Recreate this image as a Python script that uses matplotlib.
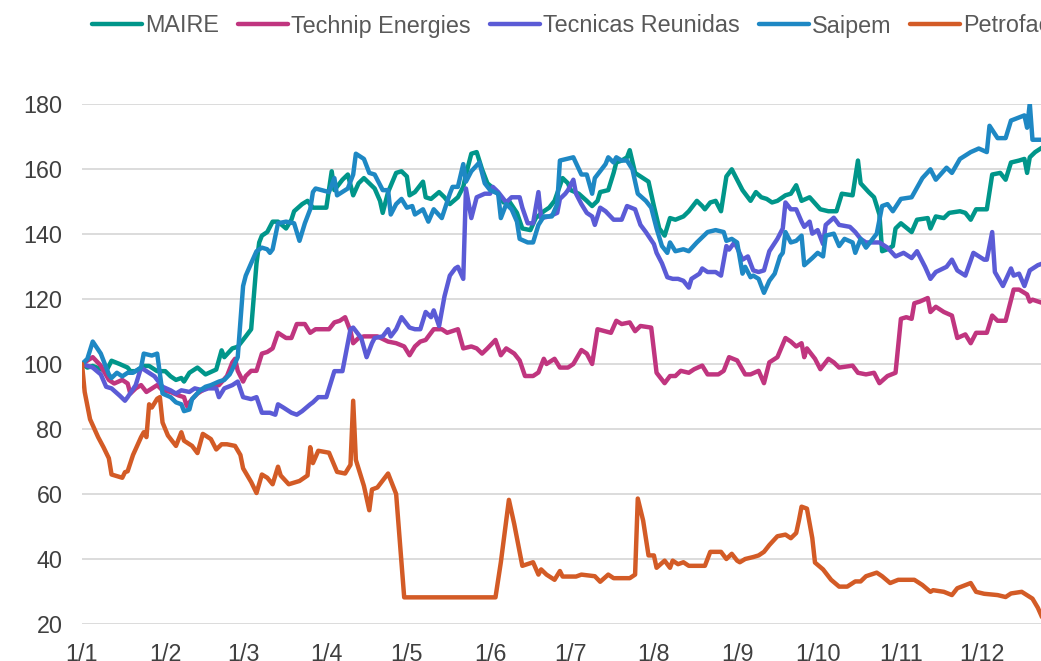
import pandas as pd
import matplotlib
matplotlib.use("Agg")
import matplotlib.pyplot as plt
from matplotlib.lines import Line2D

plt.rcParams['font.family'] = ['Liberation Sans', 'DejaVu Sans']

start = pd.Timestamp("2024-01-01")

# day offsets from 1 Jan 2024 and index values (base 100)
maire_days = [0, 2, 4, 9, 11, 14, 17, 18, 20, 23, 25, 28, 31, 33, 35, 37, 38, 40, 43, 46,
              50, 52, 53, 56, 58, 61, 63, 65, 66, 67, 69, 71, 73, 76, 78, 79, 82, 84, 86, 91,
              93, 94, 97, 99, 101, 103, 105, 107, 109, 111, 112, 114, 117, 119, 121, 122, 124, 127, 128, 130,
              133, 135, 137, 140, 142, 143, 145, 147, 149, 151, 154, 157, 159, 162, 164, 167, 169, 172, 174, 176,
              179, 181, 182, 185, 188, 190, 192, 193, 196, 197, 198, 199, 201, 203, 204, 206, 209, 211, 213, 215,
              217, 219, 221, 224, 226, 229, 231, 232, 234, 236, 238, 240, 242, 244, 246, 249, 251, 253, 255, 257,
              259, 262, 264, 266, 268, 271, 275, 278, 281, 283, 287, 289, 290, 293, 295, 297, 298, 300, 302, 303,
              305, 309, 311, 315, 316, 318, 321, 323, 327, 329, 331, 333, 337, 339, 342, 344, 346, 349, 351, 352,
              353, 355, 358]
maire_vals = [100, 98.9, 99.4, 97.8, 101, 100, 98.9, 97.8, 97.8, 99.4, 99.4, 97.8, 97.8, 96.2, 95.1, 95.7, 94.6, 97.3, 98.9, 96.8,
              98.3, 104.2, 102.1, 104.8, 105.3, 108.5, 110.7, 131, 137.4, 139.5, 140.6, 143.8, 143.8, 141.7, 144.4, 147, 149.2, 150.2, 148.1, 148.1,
              159.3, 153.5, 156.7, 158.3, 151.9, 155.6, 157.2, 155.6, 154, 150.2, 146.5, 152.9, 158.8, 159.3, 157.7, 151.9, 152.9, 156.1, 151.3, 150.8,
              152.9, 151.3, 149.2, 151.3, 154.5, 158.3, 164.7, 165.2, 159.9, 155.6, 153.5, 149.7, 150.2, 146.5, 141.7, 141.2, 144.9, 147, 148.1, 150.2,
              157.2, 155.6, 153.5, 152.4, 150.2, 148.6, 150.2, 152.9, 153.5, 156.1, 158.8, 162, 162.6, 163.6, 165.8, 158.8, 157.2, 156.1, 148.6, 141.7,
              139.5, 144.9, 144.4, 145.4, 147, 150.2, 148.6, 147.6, 149.7, 150.2, 147, 157.7, 159.9, 156.7, 153.5, 150.2, 152.9, 151.3, 150.8, 149.7,
              150.2, 151.9, 152.4, 155, 150.2, 151.3, 147.6, 147, 147, 152.4, 151.9, 162.6, 155.6, 152.9, 151.3, 146, 134.7, 135.3, 136.3, 141.7,
              143.3, 140.6, 144.4, 144.9, 141.7, 145.4, 144.9, 146.5, 147, 146.5, 144.4, 147.6, 147.6, 158.3, 158.8, 156.7, 162, 162.6, 163.1, 158.8,
              163.6, 165.2, 166.8]

technip_days = [0, 4, 7, 10, 12, 15, 17, 18, 20, 22, 24, 27, 28, 30, 33, 36, 38, 39, 41, 43,
                46, 51, 54, 56, 57, 58, 60, 61, 63, 65, 67, 69, 71, 73, 76, 78, 80, 83, 85, 87,
                92, 94, 96, 98, 100, 101, 103, 105, 110, 114, 117, 120, 122, 124, 126, 128, 131, 134, 136, 140,
                142, 145, 147, 149, 151, 154, 156, 158, 161, 163, 165, 168, 170, 172, 173, 176, 178, 181, 183, 186,
                188, 190, 192, 197, 199, 201, 204, 206, 208, 212, 214, 217, 219, 221, 223, 226, 228, 231, 233, 237,
                239, 241, 244, 247, 249, 252, 254, 256, 259, 262, 264, 266, 268, 269, 270, 273, 275, 278, 280, 282,
                287, 289, 292, 295, 297, 300, 303, 305, 307, 309, 310, 312, 315, 316, 318, 321, 324, 326, 329, 331,
                333, 337, 339, 341, 344, 347, 349, 352, 353, 354, 358]
technip_vals = [100, 102.1, 99.5, 95.1, 94, 95.1, 94, 90.9, 92.5, 93.5, 91.4, 93, 93.5, 91.9, 91.4, 90.3, 89.8, 87.1, 89.2, 90.9,
                92.5, 93.5, 96.3, 100.5, 101.6, 97.9, 94.6, 96.3, 97.9, 97.9, 103.2, 103.7, 104.8, 109.6, 108, 108, 112.3, 112.3, 109.6, 110.7,
                110.7, 112.8, 113.3, 114.4, 110.1, 106.4, 108, 108.5, 108.5, 106.9, 106.4, 105.4, 102.7, 105.4, 106.9, 107.4, 110.7, 110.7, 109.6, 110.7,
                104.8, 105.4, 104.8, 103.2, 104.8, 107.4, 102.7, 104.8, 103.2, 101.1, 96.3, 96.3, 97.4, 101.6, 100, 101.6, 98.9, 98.9, 100, 104.3,
                103.2, 100, 110.7, 109.6, 113.3, 112.3, 112.8, 110.1, 111.7, 111.2, 97.3, 94.1, 96.3, 96.3, 97.9, 97.3, 98.4, 99.5, 96.8, 96.8,
                97.9, 102.1, 101.1, 96.8, 96.8, 97.9, 94.1, 100.5, 102.1, 108, 106.9, 105.4, 106.4, 102.1, 104.8, 101.6, 98.4, 101.6, 100.5, 98.9,
                99.5, 97.3, 96.8, 97.3, 94.1, 96.3, 97.3, 113.9, 114.4, 113.9, 118.7, 119.2, 120.3, 116, 117.6, 116, 114.9, 108, 109.1, 106.4,
                109.6, 109.6, 114.9, 113.3, 113.3, 122.9, 122.9, 121.4, 119.2, 119.8, 118.7]

tecnicas_days = [0, 4, 7, 9, 11, 14, 16, 17, 20, 22, 24, 27, 30, 33, 35, 37, 40, 42, 45, 47,
                 50, 51, 53, 56, 58, 60, 63, 65, 67, 70, 72, 73, 75, 78, 80, 82, 85, 86, 88, 91,
                 94, 97, 99, 100, 101, 104, 106, 108, 109, 112, 114, 115, 117, 119, 122, 124, 126, 128, 130, 131,
                 133, 135, 137, 139, 140, 142, 143, 145, 147, 150, 152, 153, 155, 158, 160, 163, 164, 166, 168, 170,
                 171, 174, 177, 178, 180, 181, 183, 184, 186, 188, 190, 191, 193, 195, 198, 201, 203, 206, 208, 210,
                 213, 214, 216, 218, 220, 222, 224, 226, 227, 230, 231, 233, 236, 238, 240, 241, 243, 244, 246, 248,
                 250, 252, 254, 256, 259, 261, 262, 264, 266, 268, 269, 271, 272, 274, 276, 277, 280, 282, 286, 288,
                 290, 292, 297, 300, 303, 306, 309, 311, 314, 316, 318, 322, 324, 326, 329, 332, 336, 337, 339, 340,
                 343, 346, 347, 349, 351, 353, 356, 358]
tecnicas_vals = [100, 98.9, 96.8, 93, 92.5, 90.3, 88.7, 89.8, 93.5, 98.9, 97.8, 96.2, 93, 91.9, 90.9, 91.9, 91.4, 92.5, 91.9, 92.5,
                 92.5, 89.8, 92.5, 93.5, 94.6, 89.8, 89.2, 89.8, 85, 85, 84.4, 87.6, 86.6, 85, 84.4, 85.5, 87.6, 88.2, 89.8, 89.8,
                 97.8, 97.8, 106.4, 110.7, 111.2, 108, 102.1, 106.4, 108, 108.5, 110.7, 108.5, 110.7, 114.4, 111.2, 110.7, 110.7, 116, 114.4, 116.5,
                 111.7, 120.8, 127.2, 129.4, 129.9, 126.2, 154, 144.9, 151.3, 152.4, 152.4, 154.5, 152.9, 149.7, 151.3, 151.3, 148.1, 143.3, 143.3, 152.9,
                 144.9, 145.4, 146.5, 150.8, 152.4, 153.5, 156.7, 152.4, 149.2, 146.5, 145.4, 142.8, 148.1, 147, 144.4, 144.4, 148.6, 147.6, 142.8, 140.6,
                 136.9, 134.2, 131, 126.7, 126.2, 126.2, 125.6, 123.5, 126.2, 127.8, 129.4, 128.3, 128.3, 127.2, 136.3, 135.2, 137.4, 135.8, 132.1, 133.1,
                 128.8, 128.3, 128.8, 134.7, 138.5, 141.7, 149.7, 147.6, 147.6, 143.8, 142.2, 143.8, 140.1, 141.2, 136.9, 142.8, 145, 142.8, 142.2, 140.6,
                 138.5, 137.4, 137.4, 135.8, 133.1, 134.2, 132.6, 134.7, 129.9, 126.2, 128.3, 129.9, 132.1, 128.8, 127.2, 134.2, 132.1, 132.1, 140.6, 128.3,
                 124, 129.4, 127.2, 127.8, 124, 128.8, 130.4, 131]

saipem_days = [0, 2, 4, 7, 10, 11, 13, 15, 17, 19, 22, 23, 26, 28, 30, 33, 35, 37, 38, 40,
               41, 44, 46, 48, 51, 53, 55, 56, 58, 60, 61, 63, 65, 67, 69, 70, 71, 73, 76, 79,
               81, 83, 85, 86, 87, 92, 94, 95, 99, 101, 102, 105, 107, 109, 112, 114, 115, 117, 119, 121,
               123, 124, 127, 129, 131, 134, 137, 138, 140, 142, 143, 145, 148, 150, 152, 155, 156, 158, 160, 162,
               163, 166, 168, 170, 172, 175, 177, 178, 183, 186, 188, 190, 191, 195, 196, 198, 199, 201, 203, 205,
               207, 210, 212, 214, 216, 218, 219, 221, 224, 226, 229, 231, 233, 236, 239, 240, 242, 244, 246, 247,
               249, 250, 252, 254, 256, 258, 260, 261, 262, 264, 266, 268, 269, 272, 274, 276, 277, 280, 282, 284,
               287, 288, 290, 292, 296, 298, 300, 302, 305, 309, 313, 316, 318, 322, 324, 327, 331, 334, 337, 338,
               341, 344, 346, 351, 352, 353, 354, 358]
saipem_vals = [100, 101.6, 106.9, 103.2, 96.8, 95.7, 97.3, 96.2, 97.3, 97.3, 98.9, 103.2, 102.6, 103.2, 90.9, 89.8, 88.2, 87.6, 85.5, 86,
               89.2, 91.9, 93, 93.5, 94.6, 95.1, 96.8, 98.4, 102.1, 124, 127.2, 131, 134.7, 135.8, 135.3, 134.2, 135.3, 143.3, 143.8, 143.3,
               137.9, 143.3, 147.6, 152.9, 154, 152.9, 157.2, 151.9, 154, 158.3, 164.7, 163.1, 158.8, 158.3, 153.5, 153.5, 146, 149.2, 150.8, 148.1,
               148.6, 146, 147.6, 143.8, 147.6, 144.9, 152.4, 154.5, 154.5, 161.5, 156.1, 159.3, 162, 155.6, 153.5, 152.4, 144.9, 149.2, 147.6, 143.8,
               138.5, 137.4, 137.4, 142.8, 145.4, 145.4, 149.2, 162.6, 163.6, 158.3, 158.3, 152.4, 157.2, 161.5, 163.6, 162, 163.6, 162.6, 162.6, 159.9,
               152.4, 150.2, 148.1, 141.7, 136.3, 134.2, 137.4, 134.7, 135.3, 134.7, 137.4, 139, 140.6, 141.2, 140.6, 137.9, 138.5, 137.4, 127.8, 129.9,
               126.7, 127.2, 126.2, 121.9, 125.6, 127.8, 133.1, 134.2, 140.6, 137.4, 137.9, 139.5, 130.4, 132.6, 134.2, 133.1, 139.5, 140.1, 136.3, 138.5,
               137.4, 134.2, 138.5, 135.8, 140.1, 148.6, 149.2, 147, 150.8, 151.3, 157.2, 159.9, 156.7, 160.4, 158.8, 163.1, 165.2, 166.3, 165.2, 173.3,
               169.5, 169.5, 174.9, 176.5, 172.7, 180.2, 169, 169]

petrofac_days = [0, 1, 3, 6, 8, 10, 11, 15, 16, 17, 19, 22, 23, 24, 25, 26, 28, 29, 30, 32,
                 35, 37, 38, 41, 43, 45, 48, 50, 52, 54, 57, 59, 60, 63, 64, 65, 67, 69, 71, 73,
                 74, 77, 81, 84, 85, 86, 88, 92, 95, 98, 100, 101, 102, 105, 107, 108, 110, 114, 117, 120,
                 154, 156, 159, 161, 164, 168, 170, 171, 173, 176, 178, 179, 184, 186, 191, 193, 196, 198, 204, 206,
                 207, 209, 211, 213, 214, 217, 219, 220, 222, 224, 226, 232, 234, 238, 240, 242, 244, 245, 247, 250,
                 252, 254, 256, 259, 262, 264, 266, 267, 268, 270, 272, 273, 276, 279, 282, 285, 288, 290, 292, 296,
                 298, 301, 304, 310, 313, 316, 317, 321, 324, 326, 331, 333, 336, 341, 344, 346, 350, 354, 356, 358]
petrofac_vals = [100, 91.4, 83, 77.5, 74.4, 71, 66, 65, 66.7, 67, 72, 77.5, 79, 77.5, 87.6, 86.6, 89.3, 89.8, 82, 78,
                 74.8, 79, 76.4, 74.8, 72.6, 78.5, 76.9, 73.7, 75.3, 75.3, 74.8, 72, 67.9, 63.7, 62, 60.3, 66, 65, 63, 68.4,
                 65.7, 63, 64, 65.7, 74.4, 69.5, 73.3, 72.7, 66.8, 66.3, 69, 88.7, 70.5, 62.5, 55, 61.4, 62, 66.3, 60, 28.2,
                 28.2, 39, 58.2, 50.7, 37.9, 39, 35.2, 36.8, 35.2, 33.6, 36.3, 34.6, 34.6, 35.2, 34.7, 33, 35.2, 34.1, 34.1, 35.2,
                 58.6, 51.8, 41.1, 41.1, 37.3, 39.5, 37.3, 39.5, 38.4, 39, 37.9, 37.9, 42.2, 42.2, 40, 41.6, 39.5, 39, 40, 40.6,
                 41.1, 42.2, 44.3, 47, 47.5, 46.4, 48, 51.8, 56.1, 55.5, 46.4, 38.9, 36.8, 33.6, 31.5, 31.5, 33.1, 33.1, 34.7, 35.8,
                 34.7, 32.6, 33.6, 33.6, 32, 29.9, 30.4, 29.9, 28.9, 31, 32.6, 29.9, 29.3, 28.9, 28.3, 29.4, 29.9, 27.8, 25, 21.3]

month_labels = ["1/1", "1/2", "1/3", "1/4", "1/5", "1/6",
                "1/7", "1/8", "1/9", "1/10", "1/11", "1/12"]

series = [
    ("MAIRE", maire_days, maire_vals, "#00968a"),
    ("Technip Energies", technip_days, technip_vals, "#c0357f"),
    ("Tecnicas Reunidas", tecnicas_days, tecnicas_vals, "#5b5bd6"),
    ("Saipem", saipem_days, saipem_vals, "#1e88c4"),
    ("Petrofac", petrofac_days, petrofac_vals, "#d35b26"),
]

W, H = 1041, 661
fig = plt.figure(figsize=(W / 100, H / 100), dpi=100)
# plot area runs past the right edge, like the cropped original
ax = fig.add_axes([82 / W, 37 / H, 980 / W, 520 / H])

handles = []
for name, days, vals, col in series:
    dates = start + pd.to_timedelta(days, unit="D")
    ax.plot(dates, vals, color=col, lw=3.2,
            solid_joinstyle="round", solid_capstyle="round")
    handles.append(Line2D([], [], color=col, lw=3.2, solid_capstyle="round"))

ax.set_xlim(start, pd.Timestamp("2024-12-31"))
ax.set_ylim(20, 180)
ax.set_yticks(range(20, 181, 20))
ticks = pd.date_range("2024-01-01", periods=12, freq="MS")
ax.set_xticks(ticks)
ax.set_xticklabels(month_labels)

for s in ax.spines.values():
    s.set_visible(False)
ax.yaxis.grid(True, color="#d9d9d9", lw=1.3)
ax.set_axisbelow(True)
ax.tick_params(axis="both", length=0, labelsize=16.8, colors="#404040")
ax.tick_params(axis="y", pad=14)
ax.tick_params(axis="x", pad=14)

fig.legend(handles, [s[0] for s in series], ncol=5, loc="center left",
           bbox_to_anchor=(92 / W, 1 - 26 / H), frameon=False, fontsize=16.8,
           handlelength=2.14, handletextpad=0.13, columnspacing=0.82,
           borderpad=0, borderaxespad=0, labelcolor="#595959")

fig.savefig("out.png", dpi=100)
